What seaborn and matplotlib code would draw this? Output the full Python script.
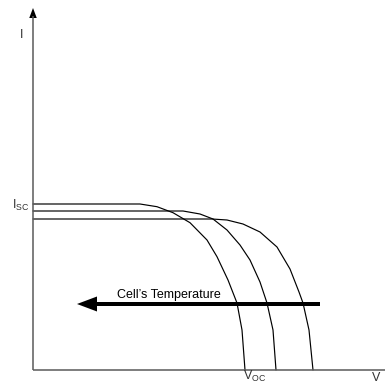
import matplotlib
matplotlib.use("Agg")
import matplotlib.pyplot as plt
from matplotlib.patches import FancyArrow
import seaborn as sns
import pandas as pd

# I-V curves for three cell temperatures (arbitrary units)
curve_names = ["T1", "T2", "T3"]
v_t1 = [0, 1.07, 1.24, 1.40, 1.57, 1.74, 1.84, 1.95, 2.04, 2.09, 2.12]
i_t1 = [1.66, 1.66, 1.633, 1.573, 1.473, 1.30, 1.133, 0.90, 0.67, 0.40, 0]
v_t2 = [0, 1.50, 1.67, 1.80, 1.94, 2.07, 2.17, 2.27, 2.34, 2.40, 2.43]
i_t2 = [1.59, 1.59, 1.56, 1.51, 1.40, 1.25, 1.10, 0.88, 0.67, 0.40, 0]
v_t3 = [0, 1.79, 1.94, 2.10, 2.27, 2.44, 2.57, 2.66, 2.70, 2.76, 2.80]
i_t3 = [1.51, 1.51, 1.50, 1.46, 1.38, 1.23, 1.01, 0.78, 0.67, 0.40, 0]

x_max = 3.52
y_max = 3.62

sns.set_theme(style="white")
plt.rcParams["font.family"] = ["Liberation Sans", "DejaVu Sans"]
plt.rcParams["mathtext.fontset"] = "custom"
plt.rcParams["mathtext.rm"] = "Liberation Sans"
plt.rcParams["mathtext.it"] = "Liberation Sans"

frames = []
for name, v, i in zip(curve_names, [v_t1, v_t2, v_t3], [i_t1, i_t2, i_t3]):
    frames.append(pd.DataFrame({"V": v, "I": i, "curve": name}))
df = pd.concat(frames, ignore_index=True)

fig = plt.figure(figsize=(3.85, 3.85), dpi=100)
ax = fig.add_axes([0, 0, 1, 1])
ax.set_xlim(-0.33, 3.52)
ax.set_ylim(-0.15, 3.70)
ax.axis("off")

sns.lineplot(data=df, x="V", y="I", units="curve", estimator=None, sort=False,
             color="black", lw=0.85, ax=ax, legend=False)

# axes
axis_col = "#5a5a5a"
ax.plot([0, x_max], [0, 0], color=axis_col, lw=1.1, solid_capstyle="butt")
ax.plot([0, 0], [0, y_max - 0.08], color=axis_col, lw=1.1, solid_capstyle="butt")
ax.add_patch(FancyArrow(0, y_max - 0.12, 0, 0.12, width=0.0, head_width=0.075,
                        head_length=0.10, length_includes_head=True,
                        color="black", lw=0))

# temperature arrow
ax.add_patch(FancyArrow(2.87, 0.66, -2.43, 0, width=0.04, head_width=0.15,
                        head_length=0.20, length_includes_head=True,
                        color="black", lw=0))
ax.text(1.36, 0.717, "Cell\u2019s Temperature", ha="center", va="baseline",
        fontsize=9, color="black")

# labels
ax.text(-0.135, 3.41, "I", ha="left", va="top", fontsize=9, color="#333333")
ax.text(-0.04, 1.61, r"I$_{\rm SC}$", ha="right", va="baseline", fontsize=9,
        color="#333333")
ax.text(2.10, -0.138, r"V$_{\rm OC}$", ha="left", va="bottom", fontsize=9,
        color="#333333")
ax.text(3.385, -0.138, "V", ha="left", va="bottom", fontsize=9, color="#333333")

fig.savefig("out.png", dpi=100)
